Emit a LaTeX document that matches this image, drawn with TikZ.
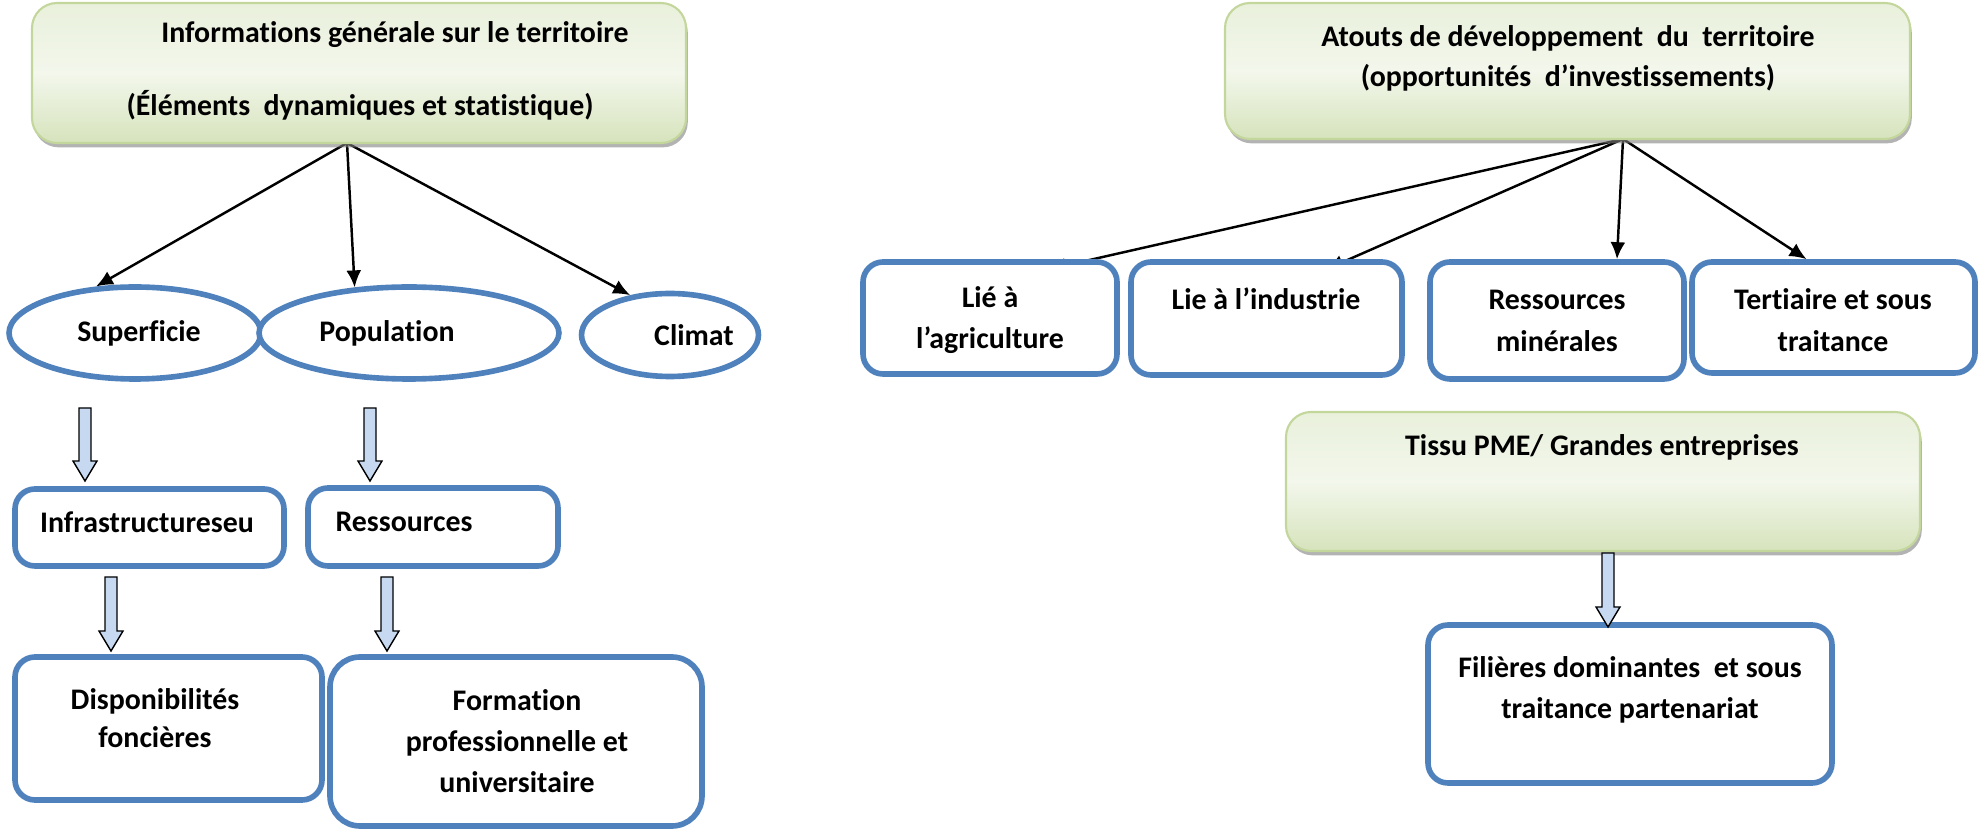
\documentclass[tikz,border=0pt]{standalone}
\usepackage{fontspec}
\setmainfont{Carlito}[Ligatures=NoCommon]
\usetikzlibrary{shapes.geometric,shadows,fit,arrows.meta,backgrounds}
\definecolor{wordblue}{RGB}{79,129,189}
\definecolor{oliveline}{RGB}{195,214,155}
\definecolor{olivetop}{RGB}{233,240,219}
\definecolor{olivemid}{RGB}{243,247,236}
\definecolor{olivebot}{RGB}{214,227,188}
\definecolor{paleblue}{RGB}{198,217,241}
\tikzset{
  titre/.style={rounded corners=.5cm, draw=oliveline, line width=1.2pt, top color=olivetop, bottom color=olivebot, middle color=olivemid,
    drop shadow={shadow xshift=1pt, shadow yshift=-2.5pt, fill=black!50, opacity=.6}, inner sep=0pt},
  cadre/.style={rounded corners=.4cm, draw=wordblue, line width=3.2pt, fill=white, inner sep=0pt},
  bulle/.style={ellipse, draw=wordblue, line width=3.2pt, fill=white, inner sep=0pt},
  mot/.style={font=\fontsize{17}{23.5}\selectfont\bfseries, align=center, inner sep=0pt},
  fleche/.style={draw=black, line width=.8pt, fill=paleblue},
}
\newcommand\grossefleche[2]{\draw[fleche] (#1) ++(-6,0) -- ++(12,0) -- ++(0,#2-20) -- ++(6,0) -- ++(-12,20) -- ++(-12,-20) -- ++(6,0) -- cycle;}

\begin{document}
\begin{tikzpicture}[>={Latex[length=.34cm,width=.3cm]}, x=.02cm, y=-.02cm]
\useasboundingbox (0,0) rectangle (1981,830);

\node[titre, fit={(32,3) (686,143)}] (infoG) {};
\node[mot] (infoGa) at (395,35) {Informations générale sur le territoire};
\node[mot] (infoGb) at (360,105) {(Éléments~ dynamiques et statistique)};

\node[bulle, minimum width=5.04cm, minimum height=1.84cm] (sup) at (135,333) {};
\node[mot] (supT) at (139,333) {Superficie};
\node[bulle, minimum width=6cm, minimum height=1.84cm] (pop) at (409,333) {};
\node[mot] (popT) at (387,333) {Population};
\node[bulle, minimum width=3.54cm, minimum height=1.66cm] (clim) at (670,335) {};
\node[mot] (climT) at (694,335) {Climat};

\node[cadre, fit={(15,489) (284,566)}] (infra) {};
\node[mot] (infraT) at (147,522) {Infrastructureseu};
\node[cadre, fit={(308,488) (558,566)}] (res) {};
\node[mot] (resT) at (404,522) {Ressources};
\node[cadre, fit={(15,657) (322,800)}] (dispo) {};
\node[mot, font=\fontsize{17}{21.5}\selectfont\bfseries] (dispoT) at (155,718) {Disponibilités\\foncières};
\node[cadre, rounded corners=.6cm, fit={(330,657) (702,826)}] (form) {};
\node[mot] (formT) at (517,741) {Formation\\professionnelle et\\universitaire};

\coordinate (ba1) at (85,408);
\coordinate (ba2) at (370,408);
\coordinate (ba3) at (111,577);
\coordinate (ba4) at (387,577);
\grossefleche{ba1}{73}
\grossefleche{ba2}{73}
\grossefleche{ba3}{74}
\grossefleche{ba4}{74}

\node[titre, fit={(1225,3) (1910,139)}] (atouts) {};
\node[mot, font=\fontsize{17}{22.7}\selectfont\bfseries] (atoutsT) at (1568,58) {Atouts de développement~ du~ territoire\\(opportunités~ d’investissements)};

\node[cadre, fit={(863,262) (1117,374)}] (agri) {};
\node[mot] (agriT) at (990,320) {Lié à\\l’agriculture};
\node[cadre, fit={(1131,262) (1402,375)}] (indus) {};
\node[mot] (indusT) at (1266,299) {Lie à l’industrie};
\node[cadre, fit={(1430,262) (1684,379)}] (miner) {};
\node[mot] (minerT) at (1557,321) {Ressources\\minérales};
\node[cadre, fit={(1692,262) (1975,373)}] (tert) {};
\node[mot] (tertT) at (1833,320) {Tertiaire et sous\\traitance};

\node[titre, fit={(1286,412) (1920,551)}] (tissu) {};
\node[mot] (tissuT) at (1602,447) {Tissu PME/ Grandes entreprises};
\node[cadre, fit={(1428,625) (1832,783)}] (fil) {};
\node[mot] (filT) at (1630,690) {Filières dominantes~ et sous\\traitance partenariat};

\coordinate (ba5) at (1608,553);
\grossefleche{ba5}{74}

\begin{pgfonlayer}{background}
\coordinate (srcL) at (347,143);
\draw[->, line width=1.4pt] (srcL) -- (sup.130);
\draw[->, line width=1.4pt] (srcL) -- (pop.140);
\draw[->, line width=1.4pt] (srcL) -- (clim.135);
\coordinate (srcR) at (1623,139);
\draw[->, line width=1.4pt] (srcR) -- ([xshift=1.18cm, yshift=-.2cm]agri.north);
\draw[->, line width=1.4pt] (srcR) -- ([xshift=1.2cm, yshift=-.2cm]indus.north);
\draw[->, line width=1.4pt] (srcR) -- ([xshift=1.2cm]miner.north);
\draw[->, line width=1.4pt] (srcR) -- ([xshift=-.54cm]tert.north);
\end{pgfonlayer}

\end{tikzpicture}
\end{document}
